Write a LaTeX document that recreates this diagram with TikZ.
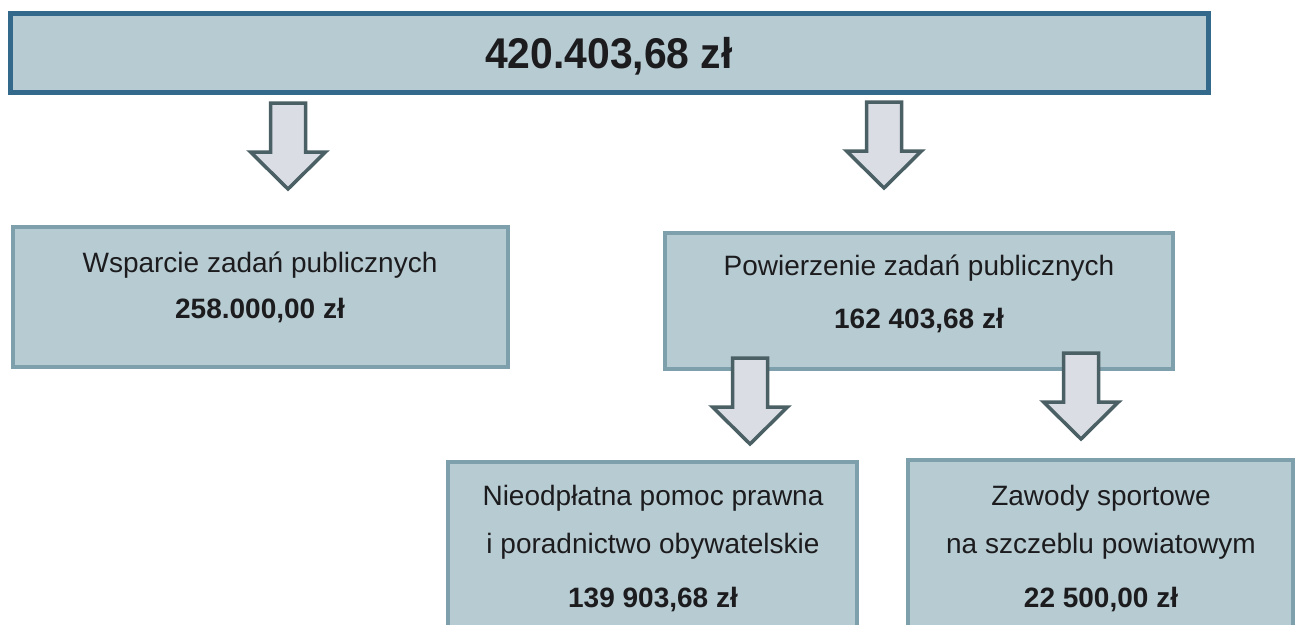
\documentclass[tikz,border=0pt]{standalone}
\usepackage{fontspec}
\setmainfont{Liberation Sans}
\definecolor{boxfill}{HTML}{B7CBD2}
\definecolor{topborder}{HTML}{33698A}
\definecolor{boxborder}{HTML}{7E9FAC}
\definecolor{arrfill}{HTML}{DADDE4}
\definecolor{arrborder}{HTML}{4A6064}
\definecolor{txt}{HTML}{1C1C1E}
\tikzset{
  box/.style={draw=boxborder, fill=boxfill, line width=4pt, rectangle, inner sep=0pt},
  topbox/.style={box, draw=topborder, line width=5pt},
  lbl/.style={anchor=base, inner sep=0pt, text=txt, font=\fontsize{28}{34}\selectfont},
  amount/.style={lbl, font=\fontsize{28}{34}\selectfont\bfseries},
  arrowstyle/.style={draw=arrborder, fill=arrfill, line width=3.5pt, line join=miter},
  pics/downarrow/.style={code={
    \draw[arrowstyle] (-17.5,0) -- (17.5,0) -- (17.5,49) -- (37.5,49) -- (0,86)
      -- (-37.5,49) -- (-17.5,49) -- cycle;}}
}
\begin{document}
\begin{tikzpicture}[x=1pt,y=-1pt]
\useasboundingbox (0,0) rectangle (1298,624);
\clip (0,0) rectangle (1298,624);
\fill[white] (0,0) rectangle (1298,624);
% boxes
\node[topbox, minimum width=1198pt, minimum height=79pt] (total) at (609,52.5) {};
\node[box, minimum width=495pt, minimum height=140pt] (wsp) at (260.5,297) {};
\node[box, minimum width=508pt, minimum height=136pt] (pow) at (919,301) {};
\node[box, minimum width=409pt, minimum height=188pt] (npp) at (652.5,556) {};
\node[box, minimum width=385pt, minimum height=190pt] (zaw) at (1100.5,555) {};
% texts
\node[lbl, font=\fontsize{43}{50}\selectfont\bfseries] (ttot) at (609,68) {\scalebox{0.95}[1]{420.403,68 zł}};
\node[lbl] (twsp1) at (260,272) {Wsparcie zadań publicznych};
\node[amount] (twsp2) at (260,318) {258.000,00 zł};
\node[lbl] (tpow1) at (919,275) {Powierzenie zadań publicznych};
\node[amount] (tpow2) at (919,328) {162 403,68 zł};
\node[lbl] (tnpp1) at (653,505) {Nieodpłatna pomoc prawna};
\node[lbl] (tnpp2) at (653,553) {i poradnictwo obywatelskie};
\node[amount] (tnpp3) at (653,607) {139 903,68 zł};
\node[lbl] (tzaw1) at (1101,505) {Zawody sportowe};
\node[lbl] (tzaw2) at (1101,553) {na szczeblu powiatowym};
\node[amount] (tzaw3) at (1101,607) {22 500,00 zł};
% block arrows
\pic (a1) at (288,103) {downarrow};
\pic (a2) at (884,102) {downarrow};
\pic (a3) at (750,358) {downarrow};
\pic (a4) at (1081,353) {downarrow};
\end{tikzpicture}
\end{document}
